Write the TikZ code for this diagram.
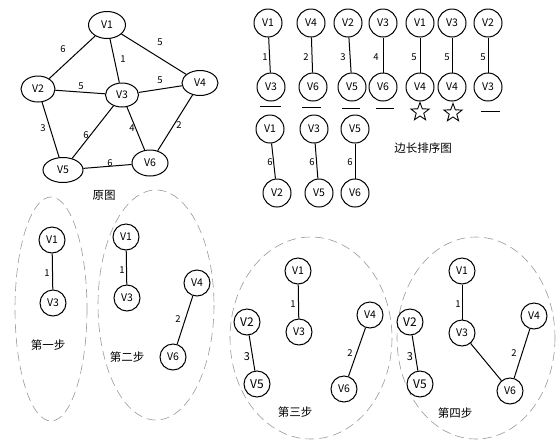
\documentclass[tikz,border=0pt]{standalone}
\usepackage{fontspec}
\setmainfont{Noto Sans CJK SC}
\usetikzlibrary{shapes.geometric}
\begin{document}
\begin{tikzpicture}[x=1pt,y=-1pt,
  every node/.style={font=\fontsize{10.5}{11}\selectfont, inner sep=0pt},
  ev/.style={draw, ellipse, line width=1pt, fill=white},
  cv/.style={draw, circle, line width=1pt, minimum size=28pt, fill=white},
  sv/.style={draw, circle, line width=1pt, minimum size=26pt, fill=white},
  lab/.style={font=\fontsize{9.5}{10}\selectfont},
  captxt/.style={font=\fontsize{11.5}{12}\selectfont},
  link/.style={line width=1pt},
  grp/.style={draw=gray!80, line width=0.6pt, dash pattern=on 9pt off 5pt},
  mark5/.style={draw, star, star points=5, star point ratio=2.4, minimum size=19pt, line width=0.9pt}
]
\useasboundingbox (0,0) rectangle (557,440);

% ---- original graph ----
\node[ev, minimum width=37pt, minimum height=27pt] (a1) at (107,25) {V1};
\node[ev, minimum width=34pt, minimum height=26pt] (a2) at (38,89) {V2};
\node[ev, minimum width=33pt, minimum height=24pt] (a3) at (122,95) {V3};
\node[ev, minimum width=36pt, minimum height=25pt] (a4) at (200,83) {V4};
\node[ev, minimum width=40pt, minimum height=25pt] (a5) at (63,170) {V5};
\node[ev, minimum width=36pt, minimum height=26pt] (a6) at (150,163) {V6};
\draw[link] (a1) -- (a2);
\draw[link] (a1) -- (a3);
\draw[link] (a1) -- (a4);
\draw[link] (a2) -- (a3);
\draw[link] (a3) -- (a4);
\draw[link] (a2) -- (a5);
\draw[link] (a3) -- (a5);
\draw[link] (a3) -- (a6);
\draw[link] (a4) -- (a6);
\draw[link] (a5) -- (a6);
\node[lab] (l12) at (63,49) {6};
\node[lab] (l13) at (123,59) {1};
\node[lab] (l14) at (160,42) {5};
\node[lab] (l23) at (81,86) {5};
\node[lab] (l34) at (160,80) {5};
\node[lab] (l25) at (43,128) {3};
\node[lab] (l35) at (86,135) {6};
\node[lab] (l36) at (132,128) {4};
\node[lab] (l46) at (179,125) {2};
\node[lab] (l56) at (110,163) {6};
\node[captxt] (cap0) at (104,195) {原图};

% ---- sorted edges ----
\foreach \n/\x/\xb/\t/\b/\w/\lx in {
  s1/268/271/V1/V3/1/265, s2/311/313/V4/V6/2/306, s3/348/352/V2/V5/3/343,
  s4/383/383/V3/V6/4/376, s5/420/420/V1/V4/5/414, s6/452/452/V3/V4/5/447,
  s7/488/488/V2/V3/5/483} {
  \node[cv] (\n t) at (\x,23) {\t};
  \node[cv] (\n b) at (\xb,87) {\b};
  \draw[link] (\n t) -- (\n b);
  \node[lab] (\n l) at (\lx,57) {\w};
}
\foreach \n/\x/\xb/\t/\b/\lx in {
  r1/270/277/V1/V2/270, r2/314/319/V3/V5/312, r3/355/355/V5/V6/350} {
  \node[cv] (\n t) at (\x,129) {\t};
  \node[cv] (\n b) at (\xb,193) {\b};
  \draw[link] (\n t) -- (\n b);
  \node[lab] (\n l) at (\lx,162) {6};
}
\coordinate (u1a) at (260,106); \coordinate (u1b) at (281,106);
\coordinate (u2a) at (302,107); \coordinate (u2b) at (321,107);
\coordinate (u3a) at (342,108); \coordinate (u3b) at (360,108);
\coordinate (u4a) at (376,108); \coordinate (u4b) at (394,108);
\coordinate (u7a) at (481,111); \coordinate (u7b) at (500,111);
\draw[link] (u1a) -- (u1b);
\draw[link] (u2a) -- (u2b);
\draw[link] (u3a) -- (u3b);
\draw[link] (u4a) -- (u4b);
\draw[link] (u7a) -- (u7b);
\node[mark5] (st1) at (420,112) {};
\node[mark5] (st2) at (453,113) {};
\node[captxt] (cap1) at (423,148) {边长排序图};

% ---- steps ----
\coordinate (e1) at (51,309);
\coordinate (e2) at (156,305);
\coordinate (e3) at (311,338);
\coordinate (e4) at (476,338);
\draw[grp] (e1) ellipse [x radius=36, y radius=112];
\draw[grp] (e2) ellipse [x radius=58, y radius=115];
\draw[grp] (e3) ellipse [x radius=81, y radius=101];
\draw[grp] (e4) ellipse [x radius=79, y radius=101];

% step 1
\node[sv] (p1a) at (52,240) {V1};
\node[sv] (p1c) at (53,303) {V3};
\draw[link] (p1a) -- (p1c);
\node[lab] (p1l) at (47,273) {1};
\node[captxt] (p1t) at (48,345) {第一步};

% step 2
\node[sv] (p2a) at (126,237) {V1};
\node[sv] (p2c) at (127,298) {V3};
\draw[link] (p2a) -- (p2c);
\node[lab] (p2l) at (122,270) {1};
\node[sv] (p2d) at (197,283) {V4};
\node[sv] (p2f) at (173,357) {V6};
\draw[link] (p2d) -- (p2f);
\node[lab] (p2m) at (178,319) {2};
\node[captxt] (p2t) at (127,357) {第二步};

% step 3
\node[sv] (p3a) at (298,271) {V1};
\node[sv] (p3c) at (299,332) {V3};
\draw[link] (p3a) -- (p3c);
\node[lab] (p3l) at (293,304) {1};
\node[sv, font=\fontsize{12}{12}\selectfont] (p3b) at (247,322) {V2};
\node[sv, font=\fontsize{12}{12}\selectfont] (p3e) at (257,384) {V5};
\draw[link] (p3b) -- (p3e);
\node[lab, font=\fontsize{11}{11}\selectfont] (p3n) at (247,357) {3};
\node[sv] (p3d) at (370,315) {V4};
\node[sv] (p3f) at (344,389) {V6};
\draw[link] (p3d) -- (p3f);
\node[lab] (p3m) at (350,353) {2};
\node[captxt] (p3t) at (295,412) {第三步};

% step 4
\node[sv] (p4a) at (462,271) {V1};
\node[sv] (p4c) at (462,333) {V3};
\draw[link] (p4a) -- (p4c);
\node[lab] (p4l) at (458,304) {1};
\node[sv, font=\fontsize{12}{12}\selectfont] (p4b) at (410,322) {V2};
\node[sv, font=\fontsize{12}{12}\selectfont] (p4e) at (420,384) {V5};
\draw[link] (p4b) -- (p4e);
\node[lab, font=\fontsize{11}{11}\selectfont] (p4n) at (410,357) {3};
\node[sv] (p4d) at (534,316) {V4};
\node[sv] (p4f) at (510,391) {V6};
\draw[link] (p4d) -- (p4f);
\draw[link] (p4c) -- (p4f);
\node[lab] (p4m) at (514,353) {2};
\node[captxt] (p4t) at (455,413) {第四步};
\end{tikzpicture}
\end{document}
